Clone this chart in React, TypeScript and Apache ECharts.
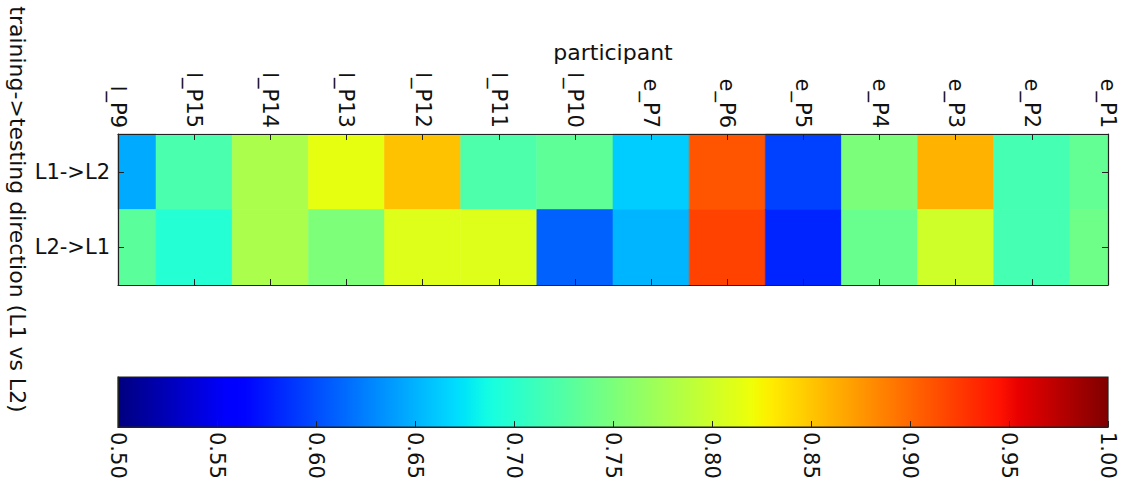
import React, { useEffect, useRef } from "react";
import * as echarts from "echarts";

const participants = ["l_P9", "l_P15", "l_P14", "l_P13", "l_P12", "l_P11", "l_P10", "e_P7", "e_P6", "e_P5", "e_P4", "e_P3", "e_P2", "e_P1"];
const directions = ["L1->L2", "L2->L1"];
const l1ToL2 = [0.646, 0.72, 0.779, 0.815, 0.852, 0.722, 0.733, 0.663, 0.91, 0.594, 0.75, 0.86, 0.717, 0.735];
const l2ToL1 = [0.73, 0.697, 0.779, 0.751, 0.81, 0.81, 0.61, 0.651, 0.92, 0.58, 0.739, 0.8, 0.717, 0.742];
const colorbarTicks = [0.5, 0.55, 0.6, 0.65, 0.7, 0.75, 0.8, 0.85, 0.9, 0.95, 1.0];
const vMin = 0.5;
const vMax = 1.0;

// matplotlib "jet" colormap segments
const jetR = [[0, 0], [0.35, 0], [0.66, 1], [0.89, 1], [1, 0.5]];
const jetG = [[0, 0], [0.125, 0], [0.375, 1], [0.64, 1], [0.91, 0], [1, 0]];
const jetB = [[0, 0.5], [0.11, 1], [0.34, 1], [0.65, 0], [1, 0]];

function seg(t: number, pts: number[][]) {
  for (let i = 1; i < pts.length; i++) {
    if (t <= pts[i][0]) {
      const [x0, y0] = pts[i - 1];
      const [x1, y1] = pts[i];
      return y0 + ((t - x0) / (x1 - x0)) * (y1 - y0);
    }
  }
  return pts[pts.length - 1][1];
}
function jet(t: number) {
  const c = (v: number) => Math.round(Math.max(0, Math.min(1, v)) * 255);
  return `rgb(${c(seg(t, jetR))},${c(seg(t, jetG))},${c(seg(t, jetB))})`;
}
const palette: string[] = [];
for (let i = 0; i <= 100; i++) palette.push(jet(i / 100));

const FONT = "DejaVu Sans";
const INK = "#111";
const LINE = "#222";

export default function App() {
  const ref = useRef<HTMLDivElement>(null);
  useEffect(() => {
    if (!ref.current) return;
    const chart = echarts.init(ref.current, undefined, { renderer: "svg" });
    const cells: number[][] = [];
    participants.forEach((_, i) => {
      cells.push([i, 0, l1ToL2[i]]);
      cells.push([i, 1, l2ToL1[i]]);
    });
    const tickStyle = { show: true, inside: true, length: 6, lineStyle: { color: LINE, width: 1 } };
    const lineStyle = { show: true, lineStyle: { color: LINE, width: 1.2 } };
    const option: any = {
      animation: false,
      backgroundColor: "#fff",
      textStyle: { fontFamily: FONT },
      grid: [
        { left: 118, top: 134, width: 990, height: 151, containLabel: false, outerBoundsMode: "none" },
        { left: 118, top: 377, width: 990, height: 50, containLabel: false, outerBoundsMode: "none" },
      ],
      visualMap: {
        show: false,
        type: "continuous",
        min: vMin,
        max: vMax,
        dimension: 2,
        seriesIndex: 0,
        inRange: { color: palette },
      },
      xAxis: [
        {
          type: "category",
          gridIndex: 0,
          position: "top",
          data: participants,
          boundaryGap: false,
          z: 10,
          axisLine: lineStyle,
          axisTick: { ...tickStyle, interval: 0 },
          axisLabel: { interval: 0, rotate: 90, fontSize: 21, color: INK, fontFamily: FONT, margin: 6 },
          splitLine: { show: false },
          name: "participant",
          nameLocation: "middle",
          nameGap: 71,
          nameTextStyle: { fontSize: 22, color: INK, fontFamily: FONT },
        },
        {
          type: "category",
          gridIndex: 0,
          position: "bottom",
          data: participants,
          boundaryGap: false,
          z: 10,
          axisLine: lineStyle,
          axisTick: { ...tickStyle, interval: 0 },
          axisLabel: { show: false },
          splitLine: { show: false },
        },
        {
          type: "value",
          gridIndex: 1,
          position: "bottom",
          min: vMin,
          max: vMax,
          interval: 0.05,
          z: 10,
          axisLine: lineStyle,
          axisTick: tickStyle,
          axisLabel: {
            rotate: -90,
            fontSize: 21,
            color: INK,
            fontFamily: FONT,
            margin: 5,
            showMinLabel: true,
            showMaxLabel: true,
            formatter: (v: number) => {
              const m = colorbarTicks.find((t) => Math.abs(t - v) < 1e-6);
              return m === undefined ? "" : m.toFixed(2);
            },
          },
          splitLine: { show: false },
        },
      ],
      yAxis: [
        {
          type: "category",
          gridIndex: 0,
          position: "left",
          data: directions,
          inverse: true,
          z: 10,
          axisLine: lineStyle,
          axisTick: { ...tickStyle, alignWithLabel: true },
          axisLabel: { fontSize: 21, color: INK, fontFamily: FONT, margin: 8 },
          splitLine: { show: false },
          name: "training->testing direction (L1 vs L2)",
          nameLocation: "middle",
          nameRotate: -90,
          nameGap: 90,
          nameMoveOverlap: false,
          nameTextStyle: { fontSize: 22, color: INK, fontFamily: FONT },
        },
        {
          type: "category",
          gridIndex: 0,
          position: "right",
          data: directions,
          inverse: true,
          z: 10,
          axisLine: lineStyle,
          axisTick: { ...tickStyle, alignWithLabel: true },
          axisLabel: { show: false },
          splitLine: { show: false },
        },
        {
          type: "value",
          gridIndex: 1,
          min: 0,
          max: 1,
          show: true,
          z: 10,
          axisLine: lineStyle,
          axisTick: { show: false },
          axisLabel: { show: false },
          splitLine: { show: false },
        },
      ],
      series: [
        {
          type: "custom",
          xAxisIndex: 0,
          yAxisIndex: 0,
          encode: { x: 0, y: 1 },
          data: cells,
          renderItem: (params: any, api: any) => {
            const c = api.coord([api.value(0), api.value(1)]);
            const s = api.size([1, 1]);
            const rect = echarts.graphic.clipRectByRect(
              { x: c[0] - s[0] / 2, y: c[1] - s[1] / 2, width: s[0], height: s[1] },
              params.coordSys
            );
            if (!rect) return null;
            const color = api.visual("color");
            return {
              type: "rect",
              shape: rect,
              style: { fill: color, stroke: color, lineWidth: 0.6 },
            };
          },
        },
        {
          type: "custom",
          xAxisIndex: 2,
          yAxisIndex: 2,
          data: [[vMin, vMax]],
          renderItem: (params: any, api: any) => {
            const p0 = api.coord([api.value(0), 0]);
            const p1 = api.coord([api.value(1), 1]);
            const stops = palette.map((c, i) => ({ offset: i / (palette.length - 1), color: c }));
            return {
              type: "rect",
              shape: { x: p0[0], y: p1[1], width: p1[0] - p0[0], height: p0[1] - p1[1] },
              style: {
                fill: new echarts.graphic.LinearGradient(0, 0, 1, 0, stops),
                stroke: LINE,
                lineWidth: 1.2,
              },
            };
          },
        },
      ],
    };
    chart.setOption(option);
    return () => chart.dispose();
  }, []);
  return (
    <div
      ref={ref}
      style={{ position: "absolute", left: 0, top: 0, width: 1124, height: 481, background: "#fff" }}
    />
  );
}
